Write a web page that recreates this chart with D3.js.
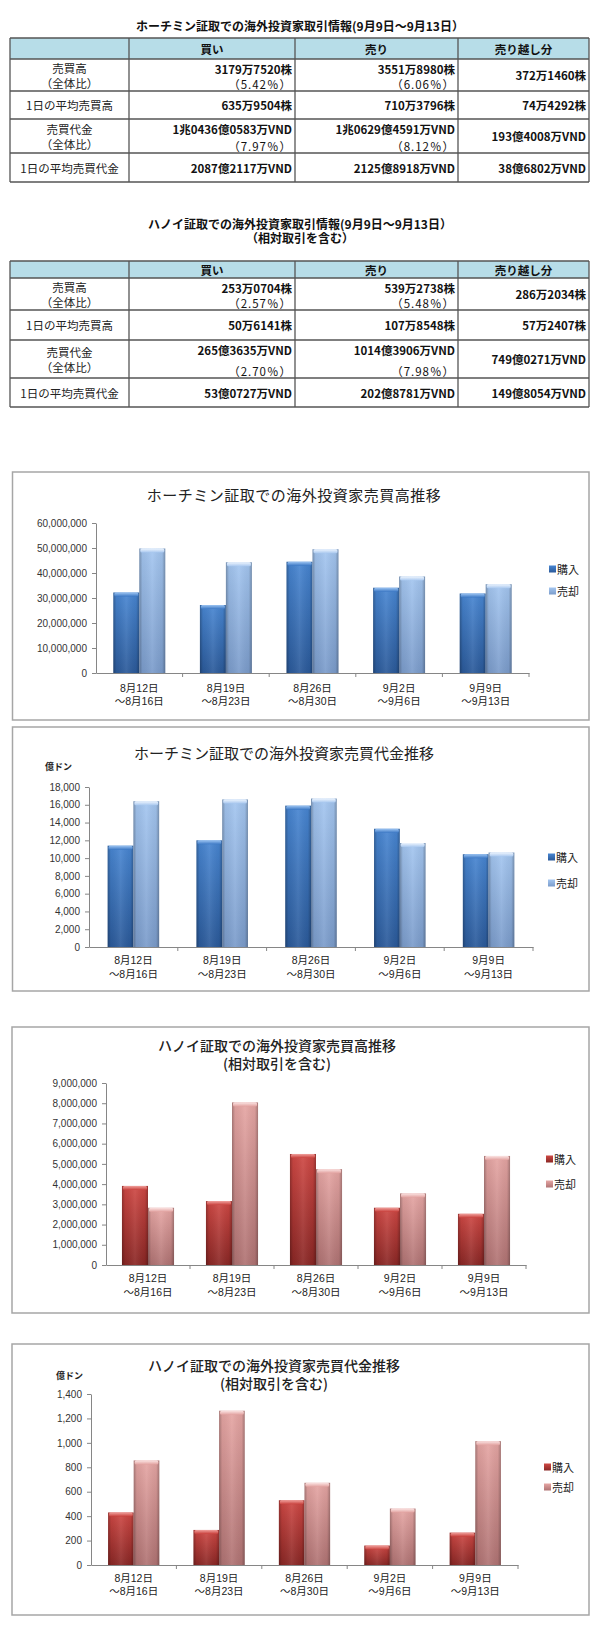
<!DOCTYPE html>
<html>
<head>
<meta charset="utf-8">
<script src="https://cdn.jsdelivr.net/npm/d3@7"></script>
<style>
  body { margin: 0; background: #fff; }
  svg { display: block; }
</style>
</head>
<body>
<div id="page"></div>
<script>
// ---- data ----
var weekStart = ["8月12日", "8月19日", "8月26日", "9月2日", "9月9日"];
var weekEnd = ["～8月16日", "～8月23日", "～8月30日", "～9月6日", "～9月13日"];
var seriesNames = ["購入", "売却"];

// HCM volume (shares)
var hcmVolBuy = [32200000, 27200000, 44500000, 34100000, 31797520];
var hcmVolSell = [49800000, 44300000, 49500000, 38600000, 35518980];
var hcmVolTicks = [0, 10000000, 20000000, 30000000, 40000000, 50000000, 60000000];
// HCM value (億ドン)
var hcmValBuy = [11400, 12000, 15900, 13300, 10436];
var hcmValSell = [16400, 16600, 16700, 11700, 10629];
var hcmValTicks = [0, 2000, 4000, 6000, 8000, 10000, 12000, 14000, 16000, 18000];
// Hanoi volume (shares)
var hnxVolBuy = [3910000, 3160000, 5490000, 2830000, 2530704];
var hnxVolSell = [2830000, 8040000, 4740000, 3540000, 5392738];
var hnxVolTicks = [0, 1000000, 2000000, 3000000, 4000000, 5000000, 6000000, 7000000, 8000000, 9000000];
// Hanoi value (億ドン)
var hnxValBuy = [430, 287, 530, 159, 265];
var hnxValSell = [856, 1263, 673, 462, 1014];
var hnxValTicks = [0, 200, 400, 600, 800, 1000, 1200, 1400];

// tables
var tableCols = ["買い", "売り", "売り越し分"];
var tableRows = [["売買高", "（全体比）"], ["1日の平均売買高"], ["売買代金", "（全体比）"], ["1日の平均売買代金"]];
var hcmBuy = [["3179万7520株", "（5.42％）"], ["635万9504株"], ["1兆0436億0583万VND", "（7.97％）"], ["2087億2117万VND"]];
var hcmSell = [["3551万8980株", "（6.06％）"], ["710万3796株"], ["1兆0629億4591万VND", "（8.12％）"], ["2125億8918万VND"]];
var hcmNet = [["372万1460株"], ["74万4292株"], ["193億4008万VND"], ["38億6802万VND"]];
var hnxBuy = [["253万0704株", "（2.57％）"], ["50万6141株"], ["265億3635万VND", "（2.70％）"], ["53億0727万VND"]];
var hnxSell = [["539万2738株", "（5.48％）"], ["107万8548株"], ["1014億3906万VND", "（7.98％）"], ["202億8781万VND"]];
var hnxNet = [["286万2034株"], ["57万2407株"], ["749億0271万VND"], ["149億8054万VND"]];

var cjk = "'Noto Sans CJK JP', sans-serif";
var latin = "'Liberation Sans', 'Noto Sans CJK JP', sans-serif";

var svg = d3.select("#page")
  .append("svg")
  .attr("width", 600)
  .attr("height", 1630);

var defs = svg.append("defs");

// vertical gradients for the bevelled bars
function vGrad(id, top, bottom) {
  var g = defs.append("linearGradient").attr("id", id)
    .attr("x1", 0).attr("y1", 0).attr("x2", 0).attr("y2", 1);
  g.append("stop").attr("offset", "0%").attr("stop-color", top);
  g.append("stop").attr("offset", "100%").attr("stop-color", bottom);
}
vGrad("blueBuy", "#4886d2", "#2b5a9a");
vGrad("blueSell", "#a4c6f0", "#7b9ccb");
vGrad("redBuy", "#cf4844", "#8a2725");
vGrad("redSell", "#e6a6a4", "#b07373");
vGrad("blueBuyCap", "#9cc4f2", "#3c78c4");
vGrad("blueSellCap", "#eef5fe", "#a9c8ef");
vGrad("redBuyCap", "#f0a09c", "#c8403c");
vGrad("redSellCap", "#fbe4e3", "#e2a2a0");

// side shading laid over each bar
var side = defs.append("linearGradient").attr("id", "side")
  .attr("x1", 0).attr("y1", 0).attr("x2", 1).attr("y2", 0);
side.append("stop").attr("offset", "0%").attr("stop-color", "#000").attr("stop-opacity", 0.28);
side.append("stop").attr("offset", "12%").attr("stop-color", "#000").attr("stop-opacity", 0.05);
side.append("stop").attr("offset", "50%").attr("stop-color", "#fff").attr("stop-opacity", 0.08);
side.append("stop").attr("offset", "88%").attr("stop-color", "#000").attr("stop-opacity", 0.05);
side.append("stop").attr("offset", "100%").attr("stop-color", "#000").attr("stop-opacity", 0.28);

// ---------------- tables ----------------
function drawTable(cfg) {
  var g = svg.append("g");
  var colX = cfg.colX;
  var rowY = cfg.rowY;

  cfg.title.forEach(function(t, i) {
    g.append("text")
      .attr("x", 300).attr("y", cfg.titleY[i])
      .attr("text-anchor", "middle")
      .attr("dominant-baseline", "central")
      .style("font-family", cjk).style("font-size", "12px")
      .style("font-weight", 700).attr("fill", "#111")
      .text(t);
  });

  // header background
  g.append("rect")
    .attr("x", colX[0]).attr("y", rowY[0])
    .attr("width", colX[4] - colX[0]).attr("height", rowY[1] - rowY[0])
    .attr("fill", "#b7dde8");

  // grid
  rowY.forEach(function(y) {
    g.append("line").attr("x1", colX[0]).attr("x2", colX[4])
      .attr("y1", y).attr("y2", y)
      .attr("stroke", "#555").attr("stroke-width", 1.3);
  });
  colX.forEach(function(x) {
    g.append("line").attr("x1", x).attr("x2", x)
      .attr("y1", rowY[0]).attr("y2", rowY[rowY.length - 1])
      .attr("stroke", "#555").attr("stroke-width", 1.3);
  });

  // header text
  tableCols.forEach(function(c, i) {
    g.append("text")
      .attr("x", (colX[i + 1] + colX[i + 2]) / 2)
      .attr("y", (rowY[0] + rowY[1]) / 2)
      .attr("text-anchor", "middle").attr("dominant-baseline", "central")
      .style("font-family", cjk).style("font-size", "11.5px").style("font-weight", 700)
      .attr("fill", "#111").text(c);
  });

  // row labels
  tableRows.forEach(function(lines, r) {
    var mid = (rowY[r + 1] + rowY[r + 2]) / 2;
    lines.forEach(function(l, k) {
      var y = lines.length === 1 ? mid : mid + (k === 0 ? -7.5 : 7.5);
      g.append("text")
        .attr("x", (colX[0] + colX[1]) / 2).attr("y", y)
        .attr("text-anchor", "middle").attr("dominant-baseline", "central")
        .style("font-family", cjk).style("font-size", "11.5px")
        .attr("fill", "#222").text(l);
    });
  });

  // numbers, right aligned (the share line sits lower, spaced out)
  [cfg.buy, cfg.sell, cfg.net].forEach(function(col, c) {
    col.forEach(function(lines, r) {
      var top = rowY[r + 1], bottom = rowY[r + 2];
      lines.forEach(function(l, k) {
        var y = lines.length === 1 ? (top + bottom) / 2 : (k === 0 ? top + 9.5 : bottom - 7.5);
        g.append("text")
          .attr("x", colX[c + 2] - 3).attr("y", y)
          .attr("text-anchor", "end").attr("dominant-baseline", "central")
          .style("font-family", cjk).style("font-size", "11.5px")
          .style("font-weight", k === 0 ? 700 : 400)
          .style("letter-spacing", k === 0 ? "0px" : "1px")
          .attr("fill", "#111").text(l);
      });
    });
  });
}

drawTable({
  title: ["ホーチミン証取での海外投資家取引情報(9月9日～9月13日）"],
  titleY: [25],
  colX: [10, 129, 295, 458, 589],
  rowY: [38, 59, 91, 119, 153, 182],
  buy: hcmBuy, sell: hcmSell, net: hcmNet
});

drawTable({
  title: ["ハノイ証取での海外投資家取引情報(9月9日～9月13日）", "（相対取引を含む）"],
  titleY: [223, 237],
  colX: [10, 129, 295, 458, 589],
  rowY: [261, 278, 310, 340, 378, 407],
  buy: hnxBuy, sell: hnxSell, net: hnxNet
});

// ---------------- bar charts ----------------
function drawChart(cfg) {
  var g = svg.append("g");

  g.append("rect")
    .attr("x", cfg.frame[0]).attr("y", cfg.frame[1])
    .attr("width", cfg.frame[2] - cfg.frame[0]).attr("height", cfg.frame[3] - cfg.frame[1])
    .attr("fill", "#fff").attr("stroke", "#a6a6a6").attr("stroke-width", 1.5);

  cfg.title.forEach(function(t, i) {
    g.append("text")
      .attr("x", cfg.titleX).attr("y", cfg.titleY[i])
      .attr("text-anchor", "middle").attr("dominant-baseline", "central")
      .style("font-family", cjk).style("font-size", cfg.titleSize + "px")
      .style("letter-spacing", cfg.titleSpacing + "px")
      .style("font-weight", cfg.titleWeight)
      .attr("fill", "#222").text(t);
  });

  if (cfg.unit) {
    g.append("text")
      .attr("x", cfg.unit[0]).attr("y", cfg.unit[1])
      .attr("dominant-baseline", "central")
      .style("font-family", cjk).style("font-size", "9px").style("font-weight", 700)
      .attr("fill", "#222").text("億ドン");
  }

  var x0 = d3.scaleBand().domain(weekStart).range([cfg.left, cfg.right]);
  var x1 = d3.scaleBand().domain([0, 1])
    .range([x0.bandwidth() * cfg.gap, x0.bandwidth() * (1 - cfg.gap)]);
  var y = d3.scaleLinear()
    .domain([0, cfg.ticks[cfg.ticks.length - 1]])
    .range([cfg.bottom, cfg.top]);

  // y axis
  var yAxis = g.append("g")
    .attr("transform", "translate(" + cfg.left + ",0)")
    .call(d3.axisLeft(y).tickValues(cfg.ticks).tickSize(4).tickSizeOuter(0)
      .tickPadding(5).tickFormat(d3.format(",")));
  yAxis.select(".domain").attr("stroke", "#868686");
  yAxis.selectAll(".tick line").attr("stroke", "#868686");
  yAxis.selectAll(".tick text")
    .style("font-family", latin).style("font-size", "10px").attr("fill", "#333");

  // bars
  var pairs = weekStart.map(function(w, i) {
    return { week: w, values: [cfg.buy[i], cfg.sell[i]] };
  });
  var grp = g.selectAll(".week").data(pairs).enter().append("g")
    .attr("transform", function(d) { return "translate(" + x0(d.week) + ",0)"; });

  var bars = grp.selectAll(".bar")
    .data(function(d) { return d.values.map(function(v, k) { return { k: k, v: v }; }); })
    .enter().append("g");

  bars.append("rect")
    .attr("x", function(d) { return x1(d.k); })
    .attr("y", function(d) { return y(d.v); })
    .attr("width", x1.bandwidth())
    .attr("height", function(d) { return cfg.bottom - y(d.v); })
    .attr("fill", function(d) { return "url(#" + cfg.fills[d.k] + ")"; });
  bars.append("rect")
    .attr("x", function(d) { return x1(d.k); })
    .attr("y", function(d) { return y(d.v); })
    .attr("width", x1.bandwidth())
    .attr("height", function(d) { return cfg.bottom - y(d.v); })
    .attr("fill", "url(#side)");
  bars.append("rect")
    .attr("x", function(d) { return x1(d.k) + 1; })
    .attr("y", function(d) { return y(d.v); })
    .attr("width", x1.bandwidth() - 2)
    .attr("height", 4)
    .attr("rx", 1.5)
    .attr("fill", function(d) { return "url(#" + cfg.fills[d.k] + "Cap)"; });

  // x axis line with category separators
  var xAxis = g.append("g")
    .attr("transform", "translate(0," + cfg.bottom + ")")
    .call(d3.axisBottom(x0).tickSize(0).tickSizeOuter(0).tickFormat(""));
  xAxis.select(".domain").attr("stroke", "#868686");
  xAxis.selectAll(".sep")
    .data(weekStart.slice(1).concat(["end"]))
    .enter().append("line")
    .attr("x1", function(d) { return d === "end" ? cfg.right : x0(d); })
    .attr("x2", function(d) { return d === "end" ? cfg.right : x0(d); })
    .attr("y1", 0).attr("y2", 4)
    .attr("stroke", "#868686");

  // category labels
  var labels = g.selectAll(".lab").data(weekStart).enter().append("text")
    .attr("text-anchor", "middle")
    .style("font-family", latin).style("font-size", "10.5px").attr("fill", "#222");
  labels.append("tspan")
    .attr("x", function(d) { return x0(d) + x0.bandwidth() / 2; })
    .attr("y", cfg.labelY[0]).attr("dominant-baseline", "central")
    .text(function(d) { return d; });
  labels.append("tspan")
    .attr("x", function(d) { return x0(d) + x0.bandwidth() / 2; })
    .attr("y", cfg.labelY[1]).attr("dominant-baseline", "central")
    .text(function(d, i) { return weekEnd[i]; });

  // legend
  seriesNames.forEach(function(s, k) {
    g.append("rect")
      .attr("x", cfg.legend[0]).attr("y", cfg.legend[k + 1] - 3.5)
      .attr("width", 7).attr("height", 7)
      .attr("fill", "url(#" + cfg.fills[k] + ")");
    g.append("text")
      .attr("x", cfg.legend[0] + 8).attr("y", cfg.legend[k + 1])
      .attr("dominant-baseline", "central")
      .style("font-family", cjk).style("font-size", "11px").attr("fill", "#222")
      .text(s);
  });
}

drawChart({
  frame: [12.5, 472, 589, 720],
  title: ["ホーチミン証取での海外投資家売買高推移"],
  titleX: 294, titleY: [494], titleSize: 15, titleSpacing: 0.5, titleWeight: 400,
  left: 96, right: 529, top: 523, bottom: 673, gap: 0.2,
  ticks: hcmVolTicks, buy: hcmVolBuy, sell: hcmVolSell,
  fills: ["blueBuy", "blueSell"],
  labelY: [688, 701], legend: [549, 569, 591]
});

drawChart({
  frame: [12.5, 727, 589, 991],
  title: ["ホーチミン証取での海外投資家売買代金推移"],
  titleX: 284, titleY: [752], titleSize: 15, titleSpacing: 0, titleWeight: 400,
  unit: [45, 766],
  left: 89, right: 533, top: 787, bottom: 947, gap: 0.21,
  ticks: hcmValTicks, buy: hcmValBuy, sell: hcmValSell,
  fills: ["blueBuy", "blueSell"],
  labelY: [960, 974], legend: [548, 857, 883]
});

drawChart({
  frame: [12, 1027, 589, 1313],
  title: ["ハノイ証取での海外投資家売買高推移", "(相対取引を含む)"],
  titleX: 277, titleY: [1045, 1063], titleSize: 14, titleSpacing: 0, titleWeight: 500,
  left: 106, right: 526, top: 1083, bottom: 1265, gap: 0.19,
  ticks: hnxVolTicks, buy: hnxVolBuy, sell: hnxVolSell,
  fills: ["redBuy", "redSell"],
  labelY: [1278, 1292], legend: [546, 1159, 1184]
});

drawChart({
  frame: [12, 1344, 589, 1615],
  title: ["ハノイ証取での海外投資家売買代金推移", "(相対取引を含む)"],
  titleX: 274, titleY: [1365, 1383], titleSize: 14, titleSpacing: 0, titleWeight: 500,
  unit: [56, 1375],
  left: 91, right: 518, top: 1394, bottom: 1565, gap: 0.2,
  ticks: hnxValTicks, buy: hnxValBuy, sell: hnxValSell,
  fills: ["redBuy", "redSell"],
  labelY: [1578, 1591], legend: [544, 1467, 1487]
});
</script>
</body>
</html>
